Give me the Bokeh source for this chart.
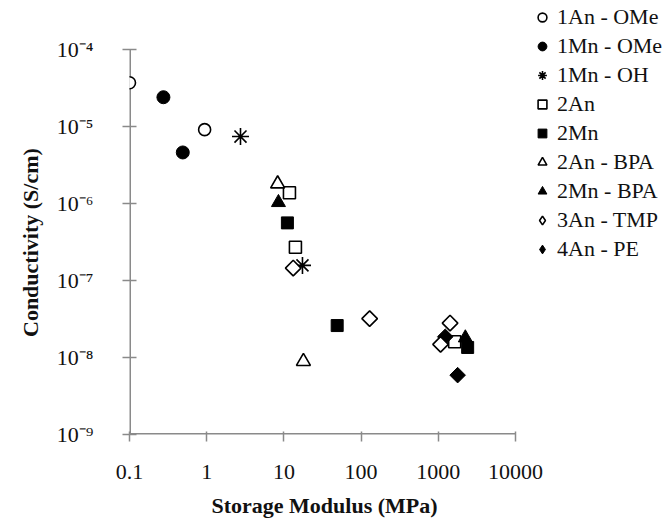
from bokeh.plotting import figure
from bokeh.models import FixedTicker, CustomJSTickFormatter, Legend, LegendItem, Title
from bokeh.embed import file_html
from bokeh.resources import INLINE
import math

# ---- data ----
x_ticks = [0.1, 1, 10, 100, 1000, 10000]
y_ticks = [1e-9, 1e-8, 1e-7, 1e-6, 1e-5, 1e-4]

an1_ome_x = [0.1, 0.94]
an1_ome_y = [3.7e-5, 9.1e-6]
mn1_ome_x = [0.275, 0.49]
mn1_ome_y = [2.4e-5, 4.6e-6]
mn1_oh_x = [2.74, 17.4]
mn1_oh_y = [7.4e-6, 1.57e-7]
an2_x = [11.8, 14.1, 1630]
an2_y = [1.38e-6, 2.7e-7, 1.6e-8]
mn2_x = [11.1, 49, 2400]
mn2_y = [5.6e-7, 2.6e-8, 1.35e-8]
an2_bpa_x = [8.3, 17.9]
an2_bpa_y = [1.8e-6, 8.9e-9]
mn2_bpa_x = [8.5, 2240]
mn2_bpa_y = [1.03e-6, 1.8e-8]
an3_tmp_x = [13.2, 129, 1420, 1070]
an3_tmp_y = [1.45e-7, 3.2e-8, 2.8e-8, 1.48e-8]
an4_pe_x = [1780, 1230]
an4_pe_y = [5.9e-9, 1.86e-8]

labels = ["1An - OMe", "1Mn - OMe", "1Mn - OH", "2An", "2Mn",
          "2An - BPA", "2Mn - BPA", "3An - TMP", "4An - PE"]

FONT = "Liberation Serif"

# ---- layout (pixels) ----
W, H = 672, 527
LEFT, BOTTOM = 129, 93          # borders for the axes
AXIS_W, AXIS_H = 386, 385       # pixel length of the drawn axes
frame_w = W - LEFT
frame_h = H - BOTTOM
dec_x = math.log10(x_ticks[-1] / x_ticks[0])
dec_y = math.log10(y_ticks[-1] / y_ticks[0])
x_end = x_ticks[0] * 10 ** (dec_x * frame_w / AXIS_W)
y_end = y_ticks[0] * 10 ** (dec_y * frame_h / AXIS_H)

p = figure(width=W, height=H, x_axis_type="log", y_axis_type="log",
           x_range=(x_ticks[0], x_end), y_range=(y_ticks[0], y_end),
           output_backend="svg", toolbar_location=None,
           min_border_left=LEFT, min_border_right=0,
           min_border_top=0, min_border_bottom=BOTTOM,
           outline_line_color=None, background_fill_color="white")
p.xgrid.visible = False
p.ygrid.visible = False

AX = "#8a8a8a"
for ax in (p.xaxis[0], p.yaxis[0]):
    ax.axis_line_color = None
    ax.major_tick_line_color = AX
    ax.major_tick_line_width = 1.5
    ax.minor_tick_line_color = None
    ax.major_label_text_font = FONT
    ax.major_label_text_font_size = "22px"
    ax.major_label_text_color = "#111111"

p.xaxis.ticker = FixedTicker(ticks=x_ticks)
p.yaxis.ticker = FixedTicker(ticks=y_ticks)
p.xaxis.formatter = CustomJSTickFormatter(code="return String(Number(tick.toPrecision(6)));")
p.yaxis.formatter = CustomJSTickFormatter(code="""
const sup = {'-':'\u207b','0':'\u2070','1':'\u00b9','2':'\u00b2','3':'\u00b3','4':'\u2074',
             '5':'\u2075','6':'\u2076','7':'\u2077','8':'\u2078','9':'\u2079'};
const e = Math.round(Math.log10(tick));
return '10' + String(e).split('').map(c => sup[c]).join('');
""")
p.xaxis.major_tick_in = 3
p.xaxis.major_tick_out = 7
p.xaxis.major_label_standoff = 23
p.yaxis.major_tick_in = 7
p.yaxis.major_tick_out = 7
p.yaxis.major_label_standoff = 29

# axis titles, centred on the drawn axis lengths
XT_W, YT_W = 222, 190           # approximate rendered title lengths
xt = Title(text="Storage Modulus (MPa)", align="left", text_font=FONT,
           text_font_size="22px", text_font_style="bold", text_color="#111111",
           offset=(AXIS_W - XT_W) / 2, standoff=18)
p.add_layout(xt, "below")
yt = Title(text="Conductivity (S/cm)", align="left", text_font=FONT,
           text_font_size="22px", text_font_style="bold", text_color="#111111",
           offset=(AXIS_H - YT_W) / 2, standoff=21)
p.add_layout(yt, "left")

# axis lines, only over the labelled span
p.segment(x0=[x_ticks[0], x_ticks[0]], y0=[y_ticks[0], y_ticks[0]],
          x1=[x_ticks[-1], x_ticks[0]], y1=[y_ticks[0], y_ticks[-1]],
          line_color=AX, line_width=3)

LW = 1.6
open_kw = dict(line_color="black", fill_color="white", line_width=LW)
fill_kw = dict(line_color="black", fill_color="black")

r_an1 = p.scatter(an1_ome_x, an1_ome_y, marker="circle", size=12, **open_kw)
r_mn1 = p.scatter(mn1_ome_x, mn1_ome_y, marker="circle", size=13, **fill_kw)
r_oh = p.scatter(mn1_oh_x, mn1_oh_y, marker="asterisk", size=17, line_color="black",
                 line_width=LW)
r_mn2 = p.scatter(mn2_x, mn2_y, marker="square", size=12, **fill_kw)
r_an2 = p.scatter(an2_x, an2_y, marker="square", size=12, **open_kw)
r_an2b = p.scatter(an2_bpa_x, an2_bpa_y, marker="triangle", size=14, **open_kw)
r_mn2b = p.scatter(mn2_bpa_x, mn2_bpa_y, marker="triangle", size=14, **fill_kw)
r_pe = p.scatter(an4_pe_x, an4_pe_y, marker="square", angle=math.pi / 4, size=11, **fill_kw)
r_tmp = p.scatter(an3_tmp_x, an3_tmp_y, marker="square", angle=math.pi / 4, size=11, **open_kw)

# legend swatches for the diamond series (legend glyphs are drawn unrotated);
# a single NaN point is never drawn in the plot area
nan = float("nan")
lg_tmp = p.scatter([nan], [nan], marker="diamond", **open_kw)
lg_pe = p.scatter([nan], [nan], marker="diamond", **fill_kw)

renderers = [[r_an1], [r_mn1], [r_oh], [r_an2], [r_mn2], [r_an2b], [r_mn2b],
             [lg_tmp], [lg_pe]]
items = [LegendItem(label=l, renderers=r) for l, r in zip(labels, renderers)]
legend = Legend(items=items, location=(402, 172), orientation="vertical",
                glyph_width=22, glyph_height=26, label_height=26, spacing=3,
                padding=0, margin=0, label_standoff=4,
                border_line_color=None, background_fill_alpha=0,
                label_text_font=FONT, label_text_font_size="22px",
                label_text_color="#111111")
p.add_layout(legend)

open("out.html", "w").write(file_html(p, INLINE))
